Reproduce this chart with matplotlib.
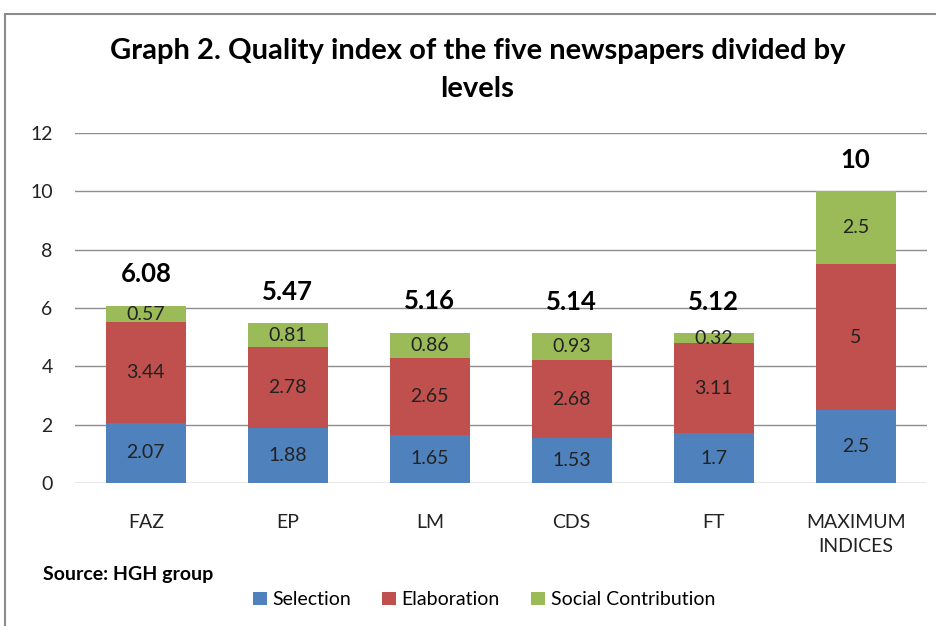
import numpy as np
import matplotlib.pyplot as plt
from matplotlib.patches import Rectangle

plt.rcParams['font.family'] = ['Lato', 'DejaVu Sans']

categories = ['FAZ', 'EP', 'LM', 'CDS', 'FT', 'MAXIMUM\nINDICES']
selection = [2.07, 1.88, 1.65, 1.53, 1.7, 2.5]
elaboration = [3.44, 2.78, 2.65, 2.68, 3.11, 5]
social = [0.57, 0.81, 0.86, 0.93, 0.32, 2.5]
totals = ['6.08', '5.47', '5.16', '5.14', '5.12', '10']

colors = ['#4F81BD', '#C0504D', '#9BBB59']
names = ['Selection', 'Elaboration', 'Social Contribution']

fig = plt.figure(figsize=(9.36, 6.26), dpi=100)
ax = fig.add_axes([0.080, 0.2284, 0.910, 0.5591])

# chart frame (cropped on right and bottom like the original)
fig.add_artist(Rectangle((0.0055, -0.05), 1.2, 1.027, transform=fig.transFigure,
                         fill=False, edgecolor='#8c8c8c', linewidth=1.5))

x = np.arange(len(categories))
w = 0.565
bottom = np.zeros(len(categories))
for vals, c, n in zip([selection, elaboration, social], colors, names):
    vals = np.array(vals)
    bars = ax.bar(x, vals, w, bottom=bottom, color=c, label=n, zorder=3)
    labels = ['%g' % v for v in vals]
    ax.bar_label(bars, labels=labels, label_type='center', fontsize=14,
                 color='#222222')
    bottom += vals

for xi, top, t in zip(x, bottom, totals):
    ax.annotate(t, (xi, top), xytext=(0, 14), textcoords='offset points',
                ha='center', va='bottom', fontsize=18.5, fontweight='bold')

ax.set_xlim(-0.5, len(categories) - 0.5)
ax.set_ylim(0, 12)
ax.set_yticks(range(0, 13, 2))
ax.yaxis.grid(True, color='#8e8e8e', linewidth=1, zorder=0)
ax.tick_params(axis='both', length=0, labelsize=14, colors='#222222')
ax.tick_params(axis='y', pad=16)
ax.tick_params(axis='x', pad=22)
ax.set_xticks(x)
ax.set_xticklabels(categories, linespacing=1.5)
for s in ax.spines.values():
    s.set_visible(False)

fig.text(0.51, 0.918, 'Graph 2. Quality index of the five newspapers divided by',
         ha='center', va='center', fontsize=21, fontweight='bold')
fig.text(0.51, 0.858, 'levels', ha='center', va='center', fontsize=21,
         fontweight='bold')
fig.text(0.046, 0.082, 'Source: HGH group', ha='left', va='center',
         fontsize=14, fontweight='bold')

fig.legend(loc='center', bbox_to_anchor=(0.517, 0.042), ncol=3, frameon=False,
           fontsize=14, handlelength=0.7, handleheight=0.7, handletextpad=0.3,
           columnspacing=1.6)

fig.savefig('out.png', dpi=100)
